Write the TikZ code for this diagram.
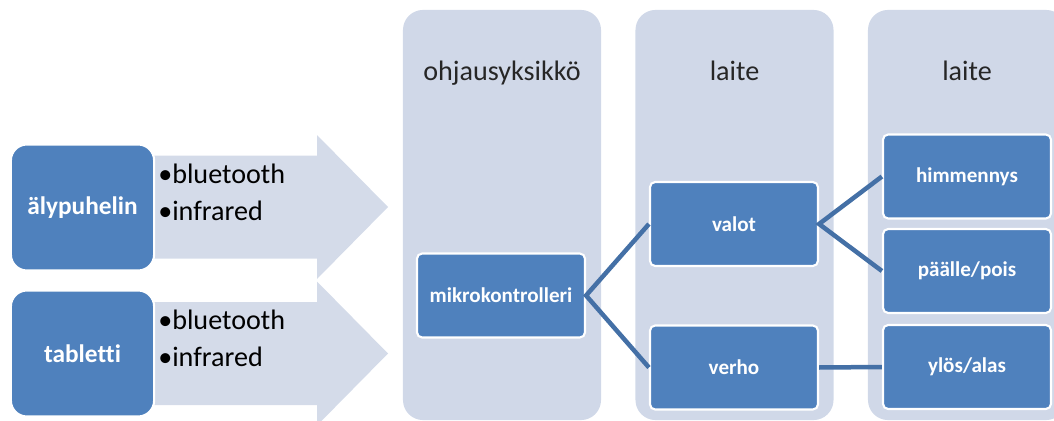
\documentclass[tikz,border=0pt]{standalone}
\usepackage{fontspec}
\setmainfont{Carlito}[Ligatures=NoCommon]
\usepackage{xcolor}
\usepackage{tikz}
\usetikzlibrary{positioning,calc}
\definecolor{lanecolor}{RGB}{208, 216, 232}
\definecolor{arrowcolor}{RGB}{212, 219, 233}
\definecolor{boxcolor}{RGB}{79, 129, 189}
\definecolor{linkcolor}{RGB}{68, 112, 166}
\tikzset{
    lane/.style={rectangle, rounded corners=0.5cm, fill=lanecolor, minimum width=4.95cm, minimum height=10.25cm, inner sep=0pt},
    lane label/.style={anchor=base, font=\fontsize{20}{24}\selectfont, text=black!85},
    device/.style={rectangle, rounded corners=0.4cm, fill=boxcolor, draw=white, line width=1.5pt, minimum width=3.58cm, minimum height=3.15cm, text=white, font=\fontsize{18}{22}\selectfont\bfseries},
    unit/.style={rectangle, rounded corners=0.13cm, fill=boxcolor, draw=white, line width=1.5pt, minimum width=4.2cm, minimum height=2.1cm, text=white, font=\fontsize{15}{18}\selectfont\bfseries},
    bullet item/.style={anchor=base west, inner sep=0pt, font=\fontsize{20}{24}\selectfont},
    signal/.style={fill=arrowcolor},
    link/.style={line width=3.2pt, draw=linkcolor}
}

\begin{document}
\begin{tikzpicture}[x=0.025cm, y=-0.025cm]
    \clip (0,0) rectangle (1054,421);

    % Background lanes
    \node[lane] (L-1) at (502,215) {};
    \node[lane] (L-2) at (734.5,215) {};
    \node[lane] (L-3) at (967,215) {};
    \node[lane label] (T-1) at (502,80) {ohjausyksikkö};
    \node[lane label] (T-2) at (734.5,80) {laite};
    \node[lane label] (T-3) at (967,80) {laite};

    % Signal arrows behind the devices
    \foreach \i/\y in {1/207,2/353.5} {
        \fill[signal] (150,\y-51.5) -- (317,\y-51.5) -- (317,\y-72) -- (388,\y)
            -- (317,\y+72) -- (317,\y+51.5) -- (150,\y+51.5) -- cycle;
        \node[bullet item] (B-\i-1) at (158,\y-24) {•bluetooth};
        \node[bullet item] (B-\i-2) at (158,\y+13) {•infrared};
    }

    % Devices
    \node[device] (phone) at (82.5,207.5) {älypuhelin};
    \node[device] (tablet) at (82.5,353.5) {tabletti};

    % Control unit and appliances
    \node[unit] (mcu) at (501,295.5) {mikrokontrolleri};
    \node[unit] (lights) at (734,224) {valot};
    \node[unit] (curtain) at (734,367.5) {verho};
    \node[unit] (dim) at (967,176.5) {himmennys};
    \node[unit] (onoff) at (967,271) {päälle/pois};
    \node[unit] (updown) at (967,367) {ylös/alas};

    % Links
    \draw[link] (lights.west) -- (mcu.east) -- (curtain.west);
    \draw[link] (dim.west) -- (lights.east) -- (onoff.west);
    \draw[link] (curtain.east) -- (updown.west);
\end{tikzpicture}
\end{document}
